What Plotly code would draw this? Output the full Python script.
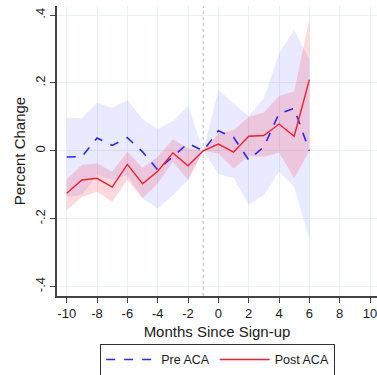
import plotly.graph_objects as go

months = [-10, -9, -8, -7, -6, -5, -4, -3, -2, -1, 0, 1, 2, 3, 4, 5, 6]

pre_est = [-0.018, -0.017, 0.038, 0.016, 0.039, -0.003, -0.056, -0.018, 0.022, 0.0,
           0.059, 0.040, -0.027, 0.012, 0.110, 0.125, 0.0]
pre_hi = [0.098, 0.096, 0.142, 0.127, 0.150, 0.094, 0.064, 0.088, 0.133, 0.0,
          0.179, 0.140, 0.102, 0.155, 0.287, 0.356, 0.270]
pre_lo = [-0.136, -0.130, -0.072, -0.085, -0.072, -0.140, -0.170, -0.131, -0.086, 0.0,
          -0.068, -0.080, -0.158, -0.131, -0.062, -0.106, -0.263]

post_est = [-0.125, -0.086, -0.081, -0.107, -0.040, -0.097, -0.060, -0.006, -0.044, 0.0,
            0.020, -0.004, 0.043, 0.045, 0.079, 0.043, 0.210]
post_hi = [-0.084, -0.042, -0.037, -0.062, -0.003, -0.050, -0.018, 0.034, 0.007, 0.0,
           0.051, 0.061, 0.100, 0.113, 0.162, 0.176, 0.388]
post_lo = [-0.175, -0.136, -0.121, -0.150, -0.086, -0.140, -0.096, -0.032, -0.086, 0.0,
           -0.008, -0.052, -0.015, -0.018, -0.005, -0.081, 0.0]

ref_month = -1
y_ticks = [-0.4, -0.2, 0, 0.2, 0.4]
y_labels = ["-.4", "-.2", "0", ".2", ".4"]
x_ticks = [-10, -8, -6, -4, -2, 0, 2, 4, 6, 8, 10]
x_labels = ["-10", "-8", "-6", "-4", "-2", "0", "2", "4", "6", "8", "10"]

fig = go.Figure()

fig.add_trace(go.Scatter(
    x=months + months[::-1], y=pre_hi + pre_lo[::-1],
    fill="toself", fillcolor="rgba(40,40,255,0.10)", line=dict(width=0),
    mode="lines", hoverinfo="skip", showlegend=False))
fig.add_trace(go.Scatter(
    x=months + months[::-1], y=post_hi + post_lo[::-1],
    fill="toself", fillcolor="rgba(255,20,40,0.16)", line=dict(width=0),
    mode="lines", hoverinfo="skip", showlegend=False))
fig.add_trace(go.Scatter(
    x=months, y=pre_est, mode="lines", name="Pre ACA",
    line=dict(color="rgb(40,40,245)", width=1.6, dash="dash")))
fig.add_trace(go.Scatter(
    x=months, y=post_est, mode="lines", name="Post ACA",
    line=dict(color="rgb(245,30,45)", width=1.4)))

fig.add_shape(type="line", xref="x", yref="paper", x0=ref_month, x1=ref_month,
              y0=0, y1=1, line=dict(color="#b8b8b8", width=1, dash="dot"), layer="below")

font_family = "Liberation Sans, Arial, sans-serif"

fig.update_layout(
    width=377, height=375,
    margin=dict(l=57, r=0, t=6, b=79, autoexpand=False),
    paper_bgcolor="white", plot_bgcolor="white",
    font=dict(family=font_family, color="#1a1a1a", size=13),
    showlegend=True,
    legend=dict(orientation="h", x=0.502, xanchor="center", y=-0.165, yanchor="top",
                bordercolor="#333333", borderwidth=1, font=dict(size=12.5),
                itemwidth=50),
    xaxis=dict(range=[-10.64, 10.46], tickvals=x_ticks, ticktext=x_labels,
               ticks="outside", ticklen=5,
               tickcolor="#444", showline=True, linecolor="#444", linewidth=1.5,
               showgrid=True, gridcolor="#e9f1f3", gridwidth=1, zeroline=False,
               tickfont=dict(size=13), automargin=False, ticklabeloverflow="allow",
               title=dict(text="Months Since Sign-up", font=dict(size=15), standoff=6)),
    yaxis=dict(range=[-0.428, 0.427], tickvals=y_ticks, ticktext=y_labels,
               tickangle=-90, ticks="outside", ticklen=5, tickcolor="#444",
               showline=True, linecolor="#444", linewidth=1.5,
               showgrid=True, gridcolor="#e9f1f3", gridwidth=1, zeroline=False,
               tickfont=dict(size=13), automargin=False,
               title=dict(text="Percent Change", font=dict(size=15), standoff=4)),
)

fig.write_html("out.html")
